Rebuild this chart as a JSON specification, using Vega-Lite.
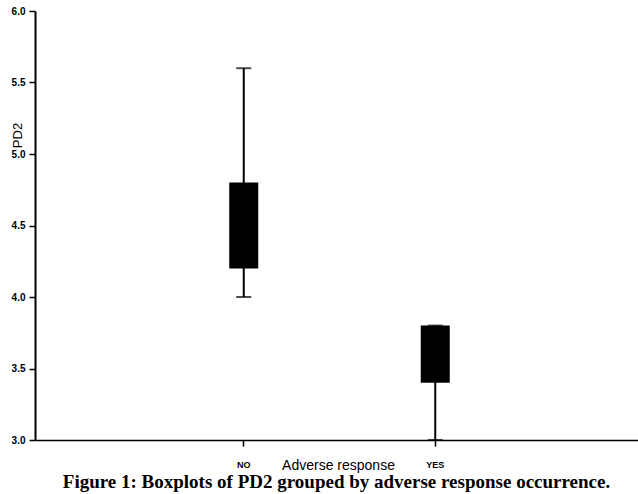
{
  "$schema": "https://vega.github.io/schema/vega-lite/v6.json",
  "autosize": "none",
  "width": 603,
  "height": 429,
  "padding": {"left": 35, "top": 11, "right": 0, "bottom": 54},
  "background": "white",
  "config": {
    "view": {"stroke": null},
    "axis": {"grid": false, "domainColor": "black", "tickColor": "black", "labelColor": "black", "titleColor": "black", "labelFont": "Liberation Sans", "titleFont": "Liberation Sans"}
  },
  "title": {
    "text": "Figure 1: Boxplots of PD2 grouped by adverse response occurrence.",
    "orient": "bottom",
    "anchor": "middle",
    "font": "Liberation Serif",
    "fontSize": 19,
    "fontWeight": "bold",
    "color": "black",
    "offset": 1
  },
  "data": {
    "values": [
      {"group": "NO", "min": 4.0, "q1": 4.2, "q3": 4.8, "max": 5.6},
      {"group": "YES", "min": 3.0, "q1": 3.4, "q3": 3.8, "max": 3.8}
    ]
  },
  "encoding": {
    "x": {
      "field": "group",
      "type": "nominal",
      "scale": {"paddingInner": 0, "paddingOuter": 0.59, "range": [0, 609]},
      "axis": {
        "title": "Adverse response",
        "labelAngle": 0,
        "labelFontSize": 9,
        "labelFontWeight": "bold",
        "labelPadding": 14,
        "tickSize": 6,
        "tickWidth": 1.5,
        "domainWidth": 1.5,
        "titleFontSize": 14,
        "titleFontWeight": "normal",
        "titleBaseline": "alphabetic",
        "titleY": 29,
        "titleX": 303
      }
    }
  },
  "layer": [
    {
      "mark": {"type": "rule", "color": "black", "strokeWidth": 2},
      "encoding": {
        "y": {
          "field": "min",
          "type": "quantitative",
          "scale": {"domain": [3.0, 6.0], "nice": false, "zero": false},
          "axis": {
            "title": "PD2",
            "format": ".1f",
            "values": [3.0, 3.5, 4.0, 4.5, 5.0, 5.5, 6.0],
            "labelFontSize": 10,
            "labelFontWeight": "bold",
            "tickSize": 6,
            "tickWidth": 1.5,
            "domainWidth": 2,
            "labelPadding": 4,
            "titleFontSize": 13,
            "titleFontWeight": "normal",
            "titleAnchor": null,
            "titleY": 124,
            "titleX": -11
          }
        },
        "y2": {"field": "max"}
      }
    },
    {
      "mark": {"type": "bar", "color": "black", "size": 29},
      "encoding": {
        "y": {"field": "q1", "type": "quantitative"},
        "y2": {"field": "q3"}
      }
    },
    {
      "mark": {"type": "tick", "color": "black", "size": 15, "thickness": 2},
      "encoding": {
        "y": {"field": "min", "type": "quantitative"}
      }
    },
    {
      "mark": {"type": "tick", "color": "black", "size": 15, "thickness": 2},
      "encoding": {
        "y": {"field": "max", "type": "quantitative"}
      }
    }
  ]
}
